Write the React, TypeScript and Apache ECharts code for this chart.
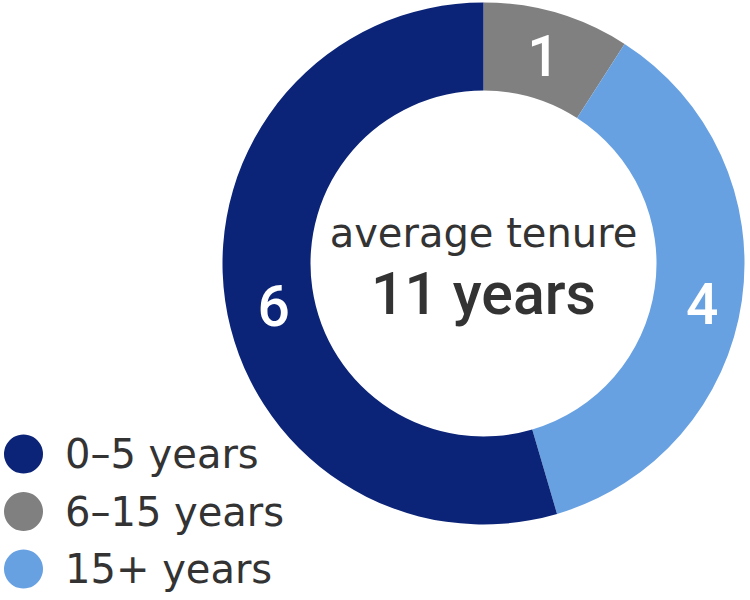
import React, { useEffect, useRef } from 'react';
import * as echarts from 'echarts';

// 任期分布（从顶部顺时针）
const categories = ['6–15 years', '15+ years', '0–5 years'];
const counts = [1, 4, 6];
const colors = ['#808080', '#68a1e2', '#0b2477'];
// 图例顺序
const legendOrder = ['0–5 years', '6–15 years', '15+ years'];
const centerTitle = 'average tenure';
const centerValue = '11 years';

const FONT = '"DejaVu Sans", sans-serif';
const FONT_MED = 'Roboto, sans-serif';

const App: React.FC = () => {
  const chartRef = useRef<HTMLDivElement>(null);

  useEffect(() => {
    document.body.style.margin = '0';
    if (!chartRef.current) return;
    const chart = echarts.init(chartRef.current, undefined, { renderer: 'svg' });

    const cx = 483.5;
    const cy = 263.5;
    // 标签微调（与原图对齐）
    const labelShift = [
      { dx: -2, dy: 4 },
      { dx: 1, dy: 10 },
      { dx: 8, dy: 12 }
    ];

    const option: echarts.EChartsOption = {
      animation: false,
      backgroundColor: '#ffffff',
      legend: {
        orient: 'vertical',
        left: 4,
        top: 434,
        padding: 0,
        icon: 'circle',
        itemWidth: 39,
        itemHeight: 39,
        itemGap: 17.5,
        selectedMode: false,
        data: legendOrder,
        textStyle: {
          fontFamily: FONT,
          fontSize: 40,
          lineHeight: 39,
          color: '#333333',
          padding: [0, 0, 0, 17]
        }
      },
      graphic: [
        {
          type: 'text',
          x: cx,
          y: 233,
          style: {
            text: centerTitle,
            fontFamily: FONT,
            fontSize: 40,
            fill: '#333333',
            align: 'center',
            verticalAlign: 'middle'
          }
        },
        {
          type: 'text',
          x: cx,
          y: 293,
          style: {
            text: centerValue,
            fontFamily: FONT_MED,
            fontSize: 59,
            fontWeight: 500,
            fill: '#333333',
            align: 'center',
            verticalAlign: 'middle'
          }
        }
      ],
      series: [
        {
          type: 'pie',
          center: [cx, cy],
          radius: [173, 261],
          startAngle: 90,
          clockwise: true,
          avoidLabelOverlap: false,
          silent: true,
          label: {
            show: true,
            position: 'inside',
            formatter: '{c}',
            color: '#ffffff',
            fontFamily: FONT_MED,
            fontSize: 57,
            fontWeight: 500
          },
          labelLayout: (p: any) => labelShift[p.dataIndex],
          labelLine: { show: false },
          data: categories.map((name, i) => ({
            name,
            value: counts[i],
            itemStyle: { color: colors[i] }
          }))
        }
      ]
    };

    chart.setOption(option);

    return () => {
      chart.dispose();
    };
  }, []);

  return <div ref={chartRef} style={{ width: '750px', height: '600px' }} />;
};

export default App;
